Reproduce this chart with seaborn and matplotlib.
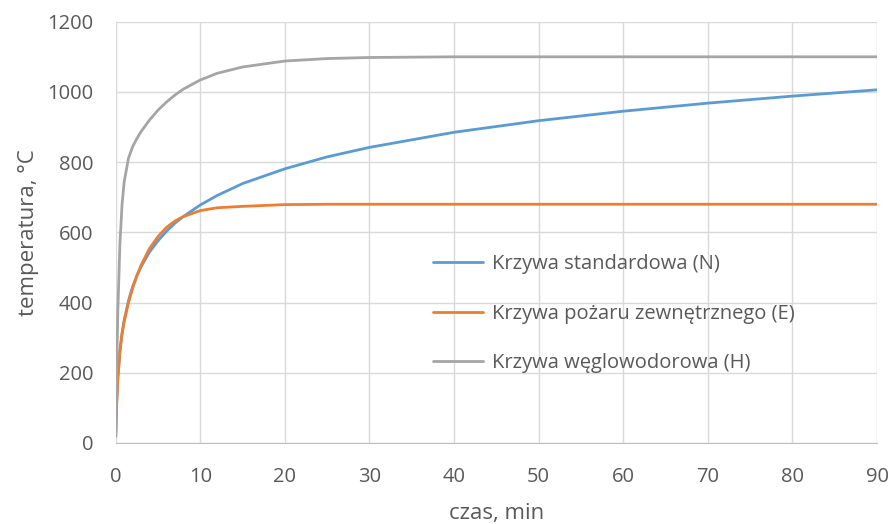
import numpy as np
import pandas as pd
import seaborn as sns
import matplotlib.pyplot as plt

# czas, min
czas = [0, 0.1, 0.25, 0.5, 0.75, 1, 1.5, 2, 2.5, 3, 4, 5, 6, 7, 8, 10, 12, 15, 20, 25, 30, 40, 50, 60, 70, 80, 90]

# temperatures, degC
krzywa_N = [20, 108, 185, 261, 312, 349, 404, 445, 476, 502, 544, 576, 603, 626, 645, 678, 705, 739, 781, 815, 842, 885, 918, 945, 968, 988, 1006]
krzywa_E = [20, 100, 182, 263, 311, 346, 399, 441, 476, 506, 554, 588, 614, 632, 645, 662, 670, 674, 679, 680, 680, 680, 680, 680, 680, 680, 680]
krzywa_H = [20, 187, 373, 568, 679, 743, 810, 844, 867, 887, 920, 948, 971, 991, 1008, 1034, 1053, 1071, 1088, 1095, 1098, 1100, 1100, 1100, 1100, 1100, 1100]

nazwy = ["Krzywa standardowa (N)", "Krzywa pożaru zewnętrznego (E)", "Krzywa węglowodorowa (H)"]
kolory = ["#5B9BD5", "#ED7D31", "#A5A5A5"]

df = pd.concat([
    pd.DataFrame({"czas": czas, "temp": krzywa_N, "krzywa": nazwy[0]}),
    pd.DataFrame({"czas": czas, "temp": krzywa_E, "krzywa": nazwy[1]}),
    pd.DataFrame({"czas": czas, "temp": krzywa_H, "krzywa": nazwy[2]}),
])

sns.set_style("white")
plt.rcParams['font.family'] = ['Open Sans', 'DejaVu Sans']

fig, ax = plt.subplots(figsize=(8.92, 5.24), dpi=100)
fig.subplots_adjust(left=0.1297, right=0.9832, top=0.9586, bottom=0.1546)

sns.lineplot(data=df, x="czas", y="temp", hue="krzywa", palette=kolory,
             linewidth=2.0, ax=ax, sort=False)

ax.set_xlim(0, 90)
ax.set_ylim(0, 1200)
ax.set_xticks(np.arange(0, 91, 10))
ax.set_yticks(np.arange(0, 1201, 200))
ax.grid(True, color="#D9D9D9", linewidth=1.0)
ax.set_axisbelow(True)
for s in ["top", "right", "left"]:
    ax.spines[s].set_visible(False)
ax.spines["bottom"].set_color("#BFBFBF")
ax.tick_params(axis="both", length=0, labelsize=14.5, labelcolor="#595959")
ax.tick_params(axis="y", pad=16)
ax.tick_params(axis="x", pad=17)

ax.set_xlabel("czas, min", fontsize=16, color="#595959", labelpad=12)
ax.set_ylabel("temperatura, °C", fontsize=16, color="#595959", labelpad=6)

ax.legend(title=None, frameon=False, fontsize=14.5, labelcolor="#595959",
          loc="center left", bbox_to_anchor=(0.393, 0.307), handlelength=2.5,
          handletextpad=0.45, labelspacing=1.45)

plt.savefig("out.png", dpi=100)
